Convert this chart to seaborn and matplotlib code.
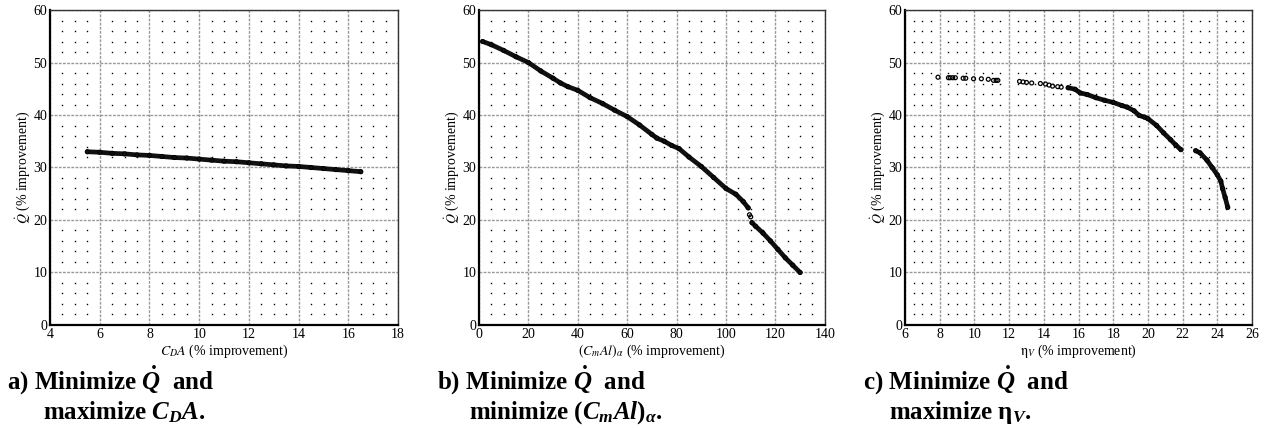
import pandas as pd
import numpy as np
import matplotlib
matplotlib.use("Agg")
import matplotlib.pyplot as plt
import seaborn as sns
from matplotlib.ticker import MultipleLocator

# panel a: Q vs CDA
a_x = [5.5, 6.0, 6.5, 7.0, 7.5, 8.0, 8.5, 9.0, 9.5, 10.0, 10.5, 11.0, 11.5,
       12.0, 12.5, 13.0, 13.5, 14.0, 14.5, 15.0, 15.5, 16.0, 16.5]
a_y = [33.0, 32.9, 32.7, 32.6, 32.4, 32.3, 32.1, 31.9, 31.8, 31.6, 31.4, 31.2, 31.1,
       30.9, 30.7, 30.5, 30.3, 30.2, 30.0, 29.8, 29.6, 29.4, 29.2]

# panel b: Q vs (CmAl)alpha, two branches + a few loose points
b1_x = [1.5, 5, 10, 15, 20, 25, 30, 33, 36, 40, 45, 50, 55, 60, 65, 70, 72, 75,
        78, 81, 85, 90, 95, 100, 104, 107, 109]
b1_y = [54.0, 53.4, 52.3, 51.1, 50.0, 48.4, 47.0, 46.1, 45.4, 44.7, 43.3, 42.2,
        40.9, 39.7, 38.1, 36.3, 35.6, 35.0, 34.2, 33.6, 32.0, 30.2, 28.1, 26.0,
        24.9, 23.5, 22.3]
b_loose_x = [109.5, 110.0]
b_loose_y = [21.0, 20.6]
b2_x = [110.5, 112, 115, 118, 121, 124, 127, 130]
b2_y = [19.5, 18.8, 17.5, 16.0, 14.4, 12.8, 11.4, 10.0]

# panel c: Q vs eta_V
c_loose_x = [7.9, 8.5, 8.6, 8.75, 8.9, 9.35, 9.5, 9.95, 10.4, 10.8, 11.1, 11.25, 11.35,
             12.6, 12.8, 13.0, 13.3, 13.8, 14.1, 14.3, 14.5, 14.8, 15.0]
c_loose_y = [47.2, 47.1, 47.1, 47.1, 47.1, 47.0, 47.0, 46.9, 46.9, 46.8, 46.6, 46.6, 46.6,
             46.4, 46.3, 46.2, 46.1, 46.0, 45.9, 45.7, 45.5, 45.4, 45.3]
c1_x = [15.4, 15.8, 16.1, 16.5, 17.0, 17.5, 18.0, 18.5, 18.8, 19.2, 19.5, 19.8,
        20.0, 20.5, 20.9, 21.3, 21.6, 21.9]
c1_y = [45.2, 44.9, 44.2, 43.9, 43.3, 42.8, 42.4, 41.8, 41.5, 40.8, 39.9, 39.6,
        39.3, 38.0, 36.6, 35.3, 34.3, 33.4]
c2_x = [22.75, 23.0, 23.4, 23.7, 24.0, 24.2, 24.3, 24.45, 24.6]
c2_y = [33.2, 32.8, 31.4, 30.0, 28.6, 27.4, 26.0, 24.3, 22.4]

sns.set_style("white")
plt.rcParams['font.family'] = ['Liberation Serif', 'DejaVu Serif']
plt.rcParams['text.color'] = 'black'
plt.rcParams['axes.labelcolor'] = 'black'
plt.rcParams['xtick.color'] = 'black'
plt.rcParams['ytick.color'] = 'black'
plt.rcParams['mathtext.fontset'] = 'stix'
plt.rcParams['mathtext.rm'] = 'Liberation Serif:bold'
plt.rcParams['mathtext.it'] = 'Liberation Serif:bold:italic'
plt.rcParams['mathtext.bf'] = 'Liberation Serif:bold'

FS = 10


def segs(*pairs):
    rows = []
    for i, (xs, ys) in enumerate(pairs):
        rows.append(pd.DataFrame({'x': xs, 'y': ys, 'seg': i}))
    return pd.concat(rows, ignore_index=True)


def style_axes(ax, xlim, xmaj, xmin):
    ax.set_xlim(*xlim)
    ax.set_ylim(0, 60)
    ax.xaxis.set_major_locator(MultipleLocator(xmaj))
    ax.xaxis.set_minor_locator(MultipleLocator(xmin))
    ax.yaxis.set_major_locator(MultipleLocator(10))
    ax.yaxis.set_minor_locator(MultipleLocator(2))
    ax.tick_params(which='both', direction='in', top=False, right=False,
                   labelsize=FS, pad=2, width=1.2, color='k')
    ax.tick_params(which='major', length=5)
    ax.tick_params(which='minor', length=4)
    ax.grid(which='major', color='#999999', linestyle=(0, (2, 1)), linewidth=1.0)
    # dotted lattice at the minor grid intersections
    xm = [v for v in ax.xaxis.get_minorticklocs() if xlim[0] < v < xlim[1]]
    ym = [v for v in ax.yaxis.get_minorticklocs() if 0 < v < 60]
    gx, gy = np.meshgrid(xm, ym)
    ax.plot(gx.ravel(), gy.ravel(), ls='none', marker='s', ms=1.0, mew=0,
            color='k', zorder=0.5)
    for s in ['left', 'bottom']:
        ax.spines[s].set_linewidth(1.6)
        ax.spines[s].set_color('k')
    for s in ['top', 'right']:
        ax.spines[s].set_linewidth(1.0)
        ax.spines[s].set_color('#333333')
    ax.set_ylabel(r'$\dot{Q}$ (% improvement)', fontsize=FS, math_fontfamily='stix')
    ax.yaxis.set_label_coords(-0.052, 0.5)
    ax.xaxis.set_label_coords(0.5, -0.055)


def draw(ax, dense, loose=None):
    sns.lineplot(data=dense, x='x', y='y', units='seg', estimator=None, sort=False,
                 color='#111111', lw=3.4, ax=ax, zorder=3)
    sns.scatterplot(data=dense, x='x', y='y', marker='o', s=9, facecolor='none',
                    edgecolor='k', linewidth=0.7, ax=ax, zorder=4)
    if loose is not None:
        sns.scatterplot(data=loose, x='x', y='y', marker='o', s=8, facecolor='none',
                        edgecolor='k', linewidth=0.9, ax=ax, zorder=4)


fig = plt.figure(figsize=(12.67, 4.28), dpi=100)
bottom, top = 0.2407, 0.9766
axa = fig.add_axes([0.0395, bottom, 0.2747, top - bottom])
axb = fig.add_axes([0.378, bottom, 0.273, top - bottom])
axc = fig.add_axes([0.7143, bottom, 0.2739, top - bottom])

draw(axa, segs((a_x, a_y)))
style_axes(axa, (4, 18), 2, 0.5)
axa.set_xlabel(r'$C_DA$ (% improvement)', fontsize=FS, math_fontfamily='stix')

draw(axb, segs((b1_x, b1_y), (b2_x, b2_y)), segs((b_loose_x, b_loose_y)))
style_axes(axb, (0, 140), 20, 5)
axb.set_xlabel(r'$(C_mAl)_\alpha$ (% improvement)', fontsize=FS, math_fontfamily='stix')

draw(axc, segs((c1_x, c1_y), (c2_x, c2_y)), segs((c_loose_x, c_loose_y)))
style_axes(axc, (6, 26), 2, 0.5)
axc.set_xlabel(r'$\mathrm{\eta}_V$ (% improvement)', fontsize=FS, math_fontfamily='stix')

cap = dict(fontsize=18, fontweight='bold', math_fontfamily='custom', va='baseline',
           color='black')
W, H = 1267, 428
captions = [
    (7, 43, r'a) Minimize $\dot{Q}$  and', r'maximize $C_DA$.'),
    (437, 469, r'b) Minimize $\dot{Q}$  and', r'minimize $(C_mAl)_\alpha$.'),
    (863, 889, r'c) Minimize $\dot{Q}$  and', r'maximize $\mathrm{\eta}_V$.'),
]
for x1, x2, l1, l2 in captions:
    fig.text(x1 / W, 1 - 389 / H, l1, **cap)
    fig.text(x2 / W, 1 - 419 / H, l2, **cap)

fig.savefig('out.png', dpi=100)
